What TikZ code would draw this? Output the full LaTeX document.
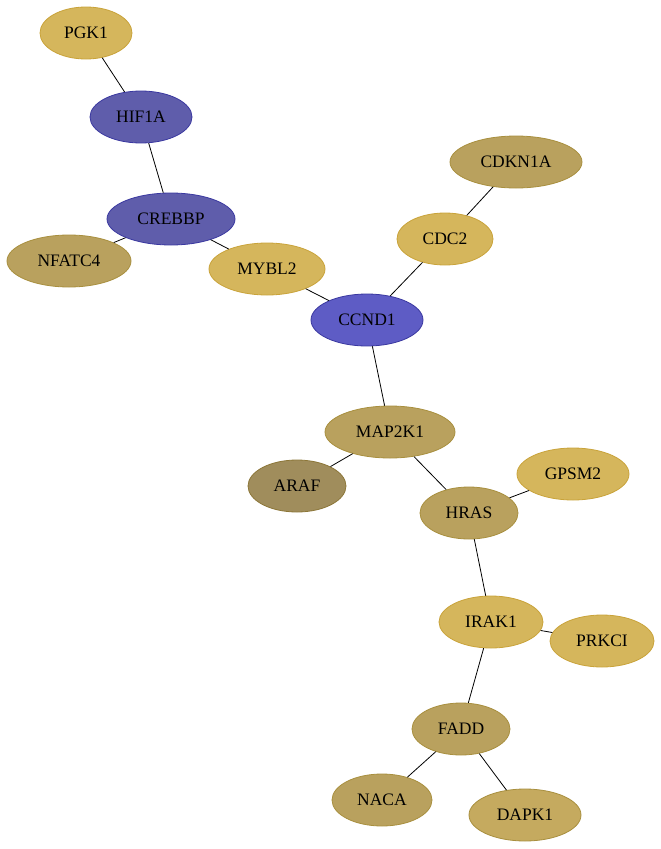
\documentclass[tikz,border=0pt]{standalone}
\usepackage{fontspec}
\setmainfont{Liberation Serif}
\usetikzlibrary{shapes.geometric}

\definecolor{goldfill}{HTML}{D5B65C}
\definecolor{goldline}{HTML}{C9A33A}
\definecolor{olivefill}{HTML}{B9A15E}
\definecolor{oliveline}{HTML}{A88F3E}
\definecolor{darkfill}{HTML}{A08D5C}
\definecolor{darkline}{HTML}{8C7638}
\definecolor{tanfill}{HTML}{C5AA5F}
\definecolor{bluefill}{HTML}{5F5DAB}
\definecolor{blueline}{HTML}{3A38A0}
\definecolor{brightfill}{HTML}{5E5CC5}

\begin{document}
\begin{tikzpicture}[x=1pt,y=-1pt,line width=0.8pt,
        gene/.style={ellipse,draw,inner sep=0pt,minimum height=52pt,font=\fontsize{17.5}{20}\selectfont},
        gold node/.style={gene,fill=goldfill,draw=goldline},
        olive node/.style={gene,fill=olivefill,draw=oliveline},
        blue node/.style={gene,fill=bluefill,draw=blueline}]
    \useasboundingbox (0,0) rectangle (661,849);

    \node[gold node,minimum width=92pt] (pgk) at (86,33) {PGK1};
    \node[blue node,minimum width=102pt] (hif) at (141,117) {HIF1A};
    \node[blue node,minimum width=128pt] (crebbp) at (171,219) {CREBBP};
    \node[olive node,minimum width=124pt] (nfatc) at (69,261) {NFATC4};
    \node[gold node,minimum width=116pt] (mybl) at (267,269) {MYBL2};
    \node[olive node,minimum width=132pt] (cdkn) at (516,162) {CDKN1A};
    \node[gold node,minimum width=96pt] (cdc) at (445,239) {CDC2};
    \node[blue node,fill=brightfill,minimum width=112pt] (ccnd) at (367,320) {CCND1};
    \node[olive node,minimum width=130pt] (mapk) at (390,432) {MAP2K1};
    \node[olive node,fill=darkfill,draw=darkline,minimum width=98pt] (araf) at (297,486) {ARAF};
    \node[gold node,minimum width=112pt] (gpsm) at (573,474) {GPSM2};
    \node[olive node,minimum width=98pt] (hras) at (469,513) {HRAS};
    \node[gold node,minimum width=104pt] (irak) at (491,622) {IRAK1};
    \node[gold node,minimum width=104pt] (prkci) at (602,641) {PRKCI};
    \node[olive node,minimum width=98pt] (fadd) at (461,729) {FADD};
    \node[olive node,minimum width=100pt] (naca) at (382,800) {NACA};
    \node[olive node,fill=tanfill,minimum width=112pt] (dapk) at (525,815) {DAPK1};

    \draw (pgk) -- (hif);
    \draw (hif) -- (crebbp);
    \draw (crebbp) -- (nfatc);
    \draw (crebbp) -- (mybl);
    \draw (mybl) -- (ccnd);
    \draw (cdkn) -- (cdc);
    \draw (cdc) -- (ccnd);
    \draw (ccnd) -- (mapk);
    \draw (mapk) -- (araf);
    \draw (mapk) -- (hras);
    \draw (hras) -- (gpsm);
    \draw (hras) -- (irak);
    \draw (irak) -- (prkci);
    \draw (irak) -- (fadd);
    \draw (fadd) -- (naca);
    \draw (fadd) -- (dapk);
\end{tikzpicture}
\end{document}
